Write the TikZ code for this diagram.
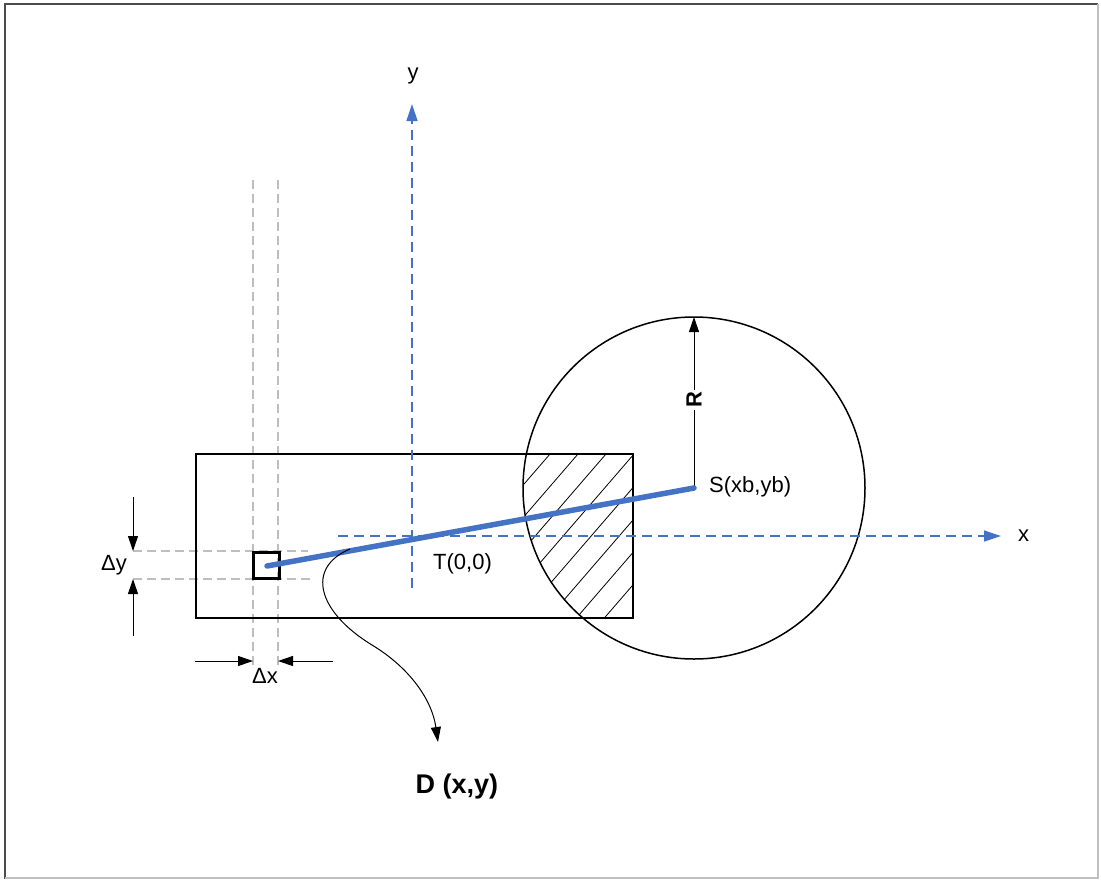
\documentclass[tikz,border=0pt]{standalone}
\usepackage{fontspec}
\setmainfont{Liberation Sans}
\usetikzlibrary{arrows.meta}
\definecolor{axblue}{RGB}{68,114,196}
\definecolor{guide}{RGB}{190,190,190}
\tikzset{
  outline/.style={draw=black, line width=1.5pt},
  guideline/.style={draw=guide, line width=1.2pt, dash pattern=on 9pt off 5pt},
  axis/.style={draw=axblue, line width=1.3pt, dash pattern=on 10pt off 6pt, -{Triangle[length=17pt,width=11pt]}},
  dimarrow/.style={draw=black, line width=1pt, -{Triangle[length=15pt,width=10pt]}},
  lbl/.style={font=\fontsize{22}{25}\selectfont, inner sep=0pt},
  boldlbl/.style={font=\fontsize{22}{25}\selectfont\bfseries, inner sep=0pt},
  hatch/.style={draw=black, line width=0.8pt}
}
\begin{document}
\begin{tikzpicture}[x=1pt,y=-1pt]
\useasboundingbox (0,0) rectangle (1101,879);
% frame
\draw[draw=black!70, line width=2pt] (5,879) -- (5,4) -- (1098,4);
\draw[draw=black!25, line width=1.5pt] (1098,4) -- (1098,878) -- (5,878);

% coordinates
\coordinate (S) at (694,488);
\coordinate (Rtop) at (694,317);
\coordinate (P) at (267,566);
\coordinate (xs) at (338,536);
\coordinate (xe) at (1001,536);
\coordinate (ys) at (412,588);
\coordinate (ye) at (412,104);

% guide lines (gray dashed)
\draw[guideline] (253,180) -- (253,668);
\draw[guideline] (278,180) -- (278,668);
\draw[guideline] (133,551) -- (308,551);
\draw[guideline] (133,579) -- (313,579);

% hatched region
\begin{scope}
  \clip (196,454) rectangle (633,618);
  \clip (S) circle (171);
  \foreach \a in {466,494,...,830} {
    \draw[hatch] (\a,454) -- ++(-190,220);
  }
\end{scope}

% rectangle and circle
\node[outline, minimum width=437pt, minimum height=164pt, inner sep=0pt] (rect) at (414.5,536) {};
\draw[outline] (S) circle (171);

% axes
\draw[axis] (xs) -- (xe);
\draw[axis] (ys) -- (ye);
\node[lbl, anchor=west] (xlab) at (1018,536) {x};
\node[lbl] (ylab) at (413,76) {y};

% radius
\node[boldlbl, rotate=90, fill=white, inner sep=2pt] (Rlab) at (694,400) {R};
\draw[draw=black, line width=1pt] (S) -- (Rlab.west);
\draw[dimarrow] (Rlab.east) -- (Rtop);
\node[lbl, anchor=west] (Slab) at (709,487) {S(xb,yb)};

% small square and blue line
\node[draw=black, line width=3pt, minimum size=26pt, inner sep=0pt] (sq) at (266.5,565) {};
\draw[draw=axblue, line width=5.5pt, line cap=round] (P) -- (S);
\node[lbl, anchor=west] (Tlab) at (433,564) {T(0,0)};

% dimension arrows
\coordinate (dyt) at (133,497);
\coordinate (dyb) at (133,636);
\draw[dimarrow] (dyt) -- (133,551);
\draw[dimarrow] (dyb) -- (133,579);
\node[lbl] (dylab) at (114,565) {Δy};
\coordinate (dxl) at (195,661);
\coordinate (dxr) at (333,661);
\draw[dimarrow] (dxl) -- (253,661);
\draw[dimarrow] (dxr) -- (278,661);
\node[lbl] (dxlab) at (265,676) {Δx};

% D label and curved arrow
\coordinate (dstart) at (350,549);
\node[font=\fontsize{27}{30}\selectfont\bfseries, inner sep=0pt] (Dlab) at (457,787) {D (x,y)};
\draw[draw=black, line width=1pt, -{Triangle[length=15pt,width=10pt]}]
  (dstart) .. controls (305,568) and (318,612) .. (372,645)
  .. controls (410,668) and (432,700) .. (438,742);
\end{tikzpicture}
\end{document}
